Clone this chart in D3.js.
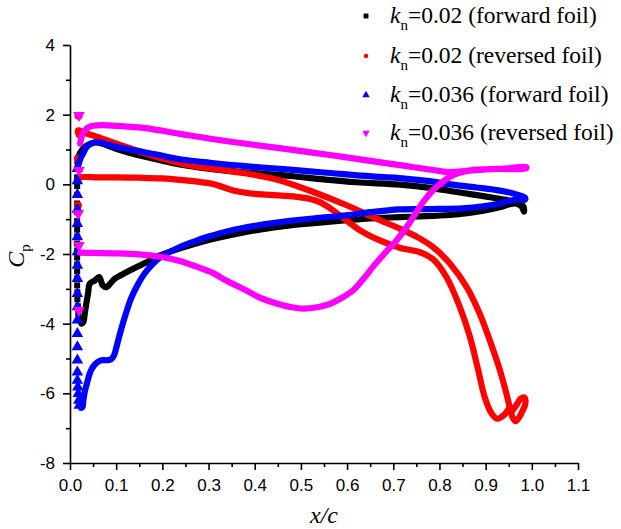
<!DOCTYPE html>
<html><head><meta charset="utf-8">
<script src="https://cdn.jsdelivr.net/npm/d3@7"></script>
<style>body{margin:0;background:#fff}svg{display:block}</style>
</head><body><svg id="c" width="621" height="529"></svg>
<script>
// ---------- data ----------
const xTicks = [0,0.1,0.2,0.3,0.4,0.5,0.6,0.7,0.8,0.9,1.0,1.1];
const xMinor = [0.05,0.15,0.25,0.35,0.45,0.55,0.65,0.75,0.85,0.95,1.05];
const yTicks = [-8,-6,-4,-2,0,2,4];
const yMinor = [-7,-5,-3,-1,1,3];
const seriesKn = ["0.02","0.02","0.036","0.036"];
const seriesFoil = ["(forward foil)","(reversed foil)","(forward foil)","(reversed foil)"];
const seriesColors = ["#000000","#ff0000","#0000ff","#ff00ff"];

// kn=0.02 forward foil (upper surface LE->TE, then lower TE->LE)
const blackSurface = [[0.016,0.62],[0.02,0.85],[0.027,1.0],[0.035,1.1],[0.045,1.17],[0.055,1.2],[0.065,1.19],[0.08,1.12],[0.1,1.02],[0.13,0.9],[0.17,0.77],[0.2,0.68],[0.238,0.57],[0.3,0.45],[0.39,0.33],[0.476,0.24],[0.55,0.14],[0.62,0.06],[0.714,-0.01],[0.78,-0.1],[0.823,-0.19],[0.87,-0.29],[0.91,-0.37],[0.94,-0.44],[0.96,-0.5],[0.975,-0.56],[0.982,-0.64],
  [0.983,-0.78],[0.978,-0.64],[0.965,-0.55],[0.952,-0.57],[0.93,-0.66],[0.895,-0.76],[0.86,-0.83],[0.823,-0.88],[0.76,-0.92],[0.714,-0.94],[0.65,-0.98],[0.599,-1.03],[0.54,-1.1],[0.476,-1.18],[0.41,-1.3],[0.346,-1.46],[0.3,-1.6],[0.267,-1.72],[0.238,-1.84],[0.195,-2.04],[0.159,-2.28],[0.123,-2.52],[0.097,-2.71],[0.087,-2.85],[0.079,-2.95],[0.071,-2.9],[0.063,-2.66],[0.054,-2.76],[0.043,-2.85],[0.039,-3.14],[0.035,-3.45],[0.032,-3.7],[0.029,-3.95],[0.025,-4.0],[0.022,-3.9]];
const blackLE = [[0.0155,0.45],[0.0155,0.2],[0.0155,-0.05],[0.0155,-0.3],[0.0155,-0.55],[0.0155,-0.8],[0.0155,-1.05],[0.0155,-1.3],[0.0155,-1.5],[0.0155,-1.7],[0.0155,-1.9],[0.0155,-2.1],[0.0155,-2.3],[0.0155,-2.5],[0.0155,-2.7],[0.0155,-2.9],[0.016,-3.1],[0.016,-3.3],[0.017,-3.5],[0.018,-3.7],[0.019,-3.85]];

// kn=0.02 reversed foil
const redUpper = [[0.019,1.42],[0.026,1.47],[0.035,1.46],[0.05,1.4],[0.07,1.31],[0.087,1.23],[0.12,1.08],[0.16,0.9],[0.2,0.74],[0.24,0.6],[0.28,0.5],[0.33,0.41],[0.382,0.31],[0.42,0.22],[0.455,0.11],[0.527,-0.22],[0.599,-0.6],[0.671,-1.03],[0.714,-1.27],[0.75,-1.5],[0.786,-1.8],[0.823,-2.28],[0.859,-2.95],[0.887,-3.71],[0.909,-4.48],[0.931,-5.34],[0.945,-6.01],[0.952,-6.39],[0.958,-6.68],[0.965,-6.8],[0.972,-6.7],[0.98,-6.5],[0.986,-6.3],[0.984,-6.12],[0.976,-6.15],[0.966,-6.35],[0.958,-6.5]];
const redLower = [[0.022,0.2],[0.03,0.21],[0.06,0.2],[0.1,0.2],[0.15,0.19],[0.2,0.17],[0.238,0.13],[0.28,0.07],[0.31,0.01],[0.34,-0.12],[0.361,-0.2],[0.39,-0.26],[0.418,-0.29],[0.491,-0.36],[0.52,-0.42],[0.541,-0.51],[0.565,-0.7],[0.584,-0.89],[0.628,-1.32],[0.671,-1.61],[0.714,-1.82],[0.758,-1.95],[0.786,-2.15],[0.815,-2.66],[0.844,-3.52],[0.866,-4.38],[0.884,-5.34],[0.898,-6.11],[0.913,-6.58],[0.925,-6.73],[0.94,-6.62],[0.95,-6.45]];
const redLE = [[0.0185,1.97],[0.019,1.52],[0.017,0.74],[0.017,-0.6]];

// kn=0.036 forward foil
const blueSurface = [[0.017,0.5],[0.022,0.72],[0.029,0.9],[0.035,1.05],[0.042,1.14],[0.054,1.21],[0.065,1.2],[0.087,1.12],[0.12,1.02],[0.159,0.93],[0.2,0.82],[0.238,0.72],[0.303,0.62],[0.39,0.51],[0.476,0.42],[0.55,0.34],[0.66,0.22],[0.714,0.18],[0.779,0.09],[0.823,0.0],[0.88,-0.09],[0.931,-0.18],[0.96,-0.26],[0.974,-0.32],[0.985,-0.38],
  [0.985,-0.44],[0.97,-0.43],[0.952,-0.47],[0.93,-0.55],[0.895,-0.63],[0.85,-0.69],[0.779,-0.71],[0.714,-0.72],[0.65,-0.8],[0.599,-0.89],[0.54,-0.96],[0.476,-1.05],[0.41,-1.17],[0.346,-1.33],[0.3,-1.5],[0.267,-1.65],[0.238,-1.8],[0.195,-2.1],[0.165,-2.5],[0.148,-2.85],[0.133,-3.25],[0.12,-3.75],[0.11,-4.2],[0.102,-4.6],[0.095,-4.92],[0.088,-5.03],[0.078,-5.05],[0.068,-5.05],[0.06,-5.1],[0.052,-5.2],[0.045,-5.35],[0.04,-5.55],[0.036,-5.75],[0.032,-5.95],[0.029,-6.2],[0.027,-6.4],[0.024,-6.42]];
const blueLE = [[0.016,0.45],[0.016,0.1],[0.016,-0.3],[0.016,-0.72],[0.016,-1.13],[0.016,-1.51],[0.016,-1.94],[0.016,-2.33],[0.016,-2.71],[0.016,-3.14],[0.016,-3.52],[0.016,-3.9],[0.016,-4.29],[0.016,-4.67],[0.016,-5.05],[0.016,-5.39],[0.016,-5.63],[0.017,-5.82],[0.018,-6.01],[0.019,-6.2],[0.02,-6.35]];

// kn=0.036 reversed foil
const magentaSurface = [[0.022,1.17],[0.026,1.4],[0.032,1.55],[0.04,1.64],[0.05,1.68],[0.07,1.7],[0.1,1.68],[0.159,1.62],[0.238,1.45],[0.303,1.31],[0.39,1.15],[0.509,0.94],[0.606,0.76],[0.714,0.55],[0.786,0.41],[0.823,0.35],[0.86,0.39],[0.9,0.43],[0.95,0.46],[0.988,0.5],
  [0.988,0.46],[0.93,0.44],[0.87,0.41],[0.845,0.34],[0.823,0.22],[0.805,0.05],[0.786,-0.17],[0.765,-0.5],[0.75,-0.8],[0.728,-1.25],[0.707,-1.61],[0.68,-2.0],[0.656,-2.37],[0.635,-2.72],[0.613,-3.04],[0.59,-3.25],[0.563,-3.43],[0.535,-3.53],[0.505,-3.57],[0.48,-3.53],[0.455,-3.45],[0.411,-3.25],[0.382,-3.05],[0.339,-2.77],[0.31,-2.55],[0.267,-2.33],[0.238,-2.2],[0.195,-2.08],[0.15,-2.01],[0.1,-1.98],[0.05,-1.97],[0.022,-1.96]];
const magentaLE = [[0.0195,1.98],[0.0195,0.4],[0.018,-0.84],[0.0195,-1.75],[0.0195,-3.62]];

// ---------- chart ----------
const svg = d3.select("#c");
const x = d3.scaleLinear().domain([0,1.1]).range([70,578]);
const y = d3.scaleLinear().domain([-8,4]).range([463,45]);

const line = d3.line().x(d=>x(d[0])).y(d=>y(d[1])).curve(d3.curveCatmullRom.alpha(0.5));

const surfaces = [[blackSurface],[redUpper,redLower],[blueSurface],[magentaSurface]];
const lePoints = [blackLE, redLE, blueLE, magentaLE];
const symTypes = [d3.symbolSquare, d3.symbolCircle, d3.symbolTriangle, d3.symbolTriangle];
const symSizes = [36, 52, 58, 58];
const symRot = [0,0,0,180];

const g = svg.append("g");
seriesColors.forEach((col,i)=>{
  const sg = g.append("g");
  surfaces[i].forEach(arr=>{
    sg.append("path").attr("d", line(arr)).attr("fill","none")
      .attr("stroke", col).attr("stroke-width", 6.2)
      .attr("stroke-linecap","round").attr("stroke-linejoin","round");
  });
  sg.selectAll("path.m").data(lePoints[i]).join("path").attr("class","m")
    .attr("d", d3.symbol().type(symTypes[i]).size(symSizes[i]))
    .attr("transform", d=>`translate(${x(d[0])},${y(d[1])}) rotate(${symRot[i]})`)
    .attr("fill", col);
});

// axes
const axisFont = "'Liberation Sans', Arial, sans-serif";
svg.append("g").attr("transform","translate(0,463)")
  .call(d3.axisBottom(x).tickValues(xTicks).tickFormat(d3.format(".1f")).tickSize(7).tickSizeOuter(0).tickPadding(9));
svg.append("g").attr("transform","translate(0,463)")
  .call(d3.axisBottom(x).tickValues(xMinor).tickFormat("").tickSize(4).tickSizeOuter(0))
  .select(".domain").remove();
svg.append("g").attr("transform","translate(70,0)")
  .call(d3.axisLeft(y).tickValues(yTicks).tickFormat(d=>String(d)).tickSize(7).tickSizeOuter(0).tickPadding(8));
svg.append("g").attr("transform","translate(70,0)")
  .call(d3.axisLeft(y).tickValues(yMinor).tickFormat("").tickSize(4).tickSizeOuter(0))
  .select(".domain").remove();
svg.selectAll(".domain, .tick line").attr("stroke","#000").attr("stroke-width",1.6);
svg.selectAll(".tick text").attr("font-family",axisFont).attr("font-size",17).attr("fill","#000");

// axis titles
const serif = "'Liberation Serif', 'Times New Roman', serif";
svg.append("text").attr("x",324).attr("y",523).attr("text-anchor","middle")
  .attr("font-family",serif).attr("font-style","italic").attr("font-size",24).text("x/c");
const yl = svg.append("text").attr("transform","translate(24,256) rotate(-90)").attr("text-anchor","middle")
  .attr("font-family",serif).attr("font-size",24);
yl.append("tspan").attr("font-style","italic").text("C");
yl.append("tspan").attr("font-size",15).attr("dy",6).text("p");

// legend
const legY = [16,56,95,133];
const leg = svg.append("g");
seriesColors.forEach((col,i)=>{
  leg.append("path").attr("d", d3.symbol().type(symTypes[i]).size(i===1?16:24)())
    .attr("transform",`translate(366,${legY[i]}) rotate(${symRot[i]})`).attr("fill",col);
  const t = leg.append("text").attr("x",390).attr("y",legY[i]+7)
    .attr("font-family",serif).attr("font-size",23.5).attr("fill","#000");
  t.append("tspan").attr("font-style","italic").text("k");
  t.append("tspan").attr("font-size",15).attr("dy",7).text("n");
  t.append("tspan").attr("dy",-7).text("=" + seriesKn[i] + " " + seriesFoil[i]);
});
</script>
</body></html>
